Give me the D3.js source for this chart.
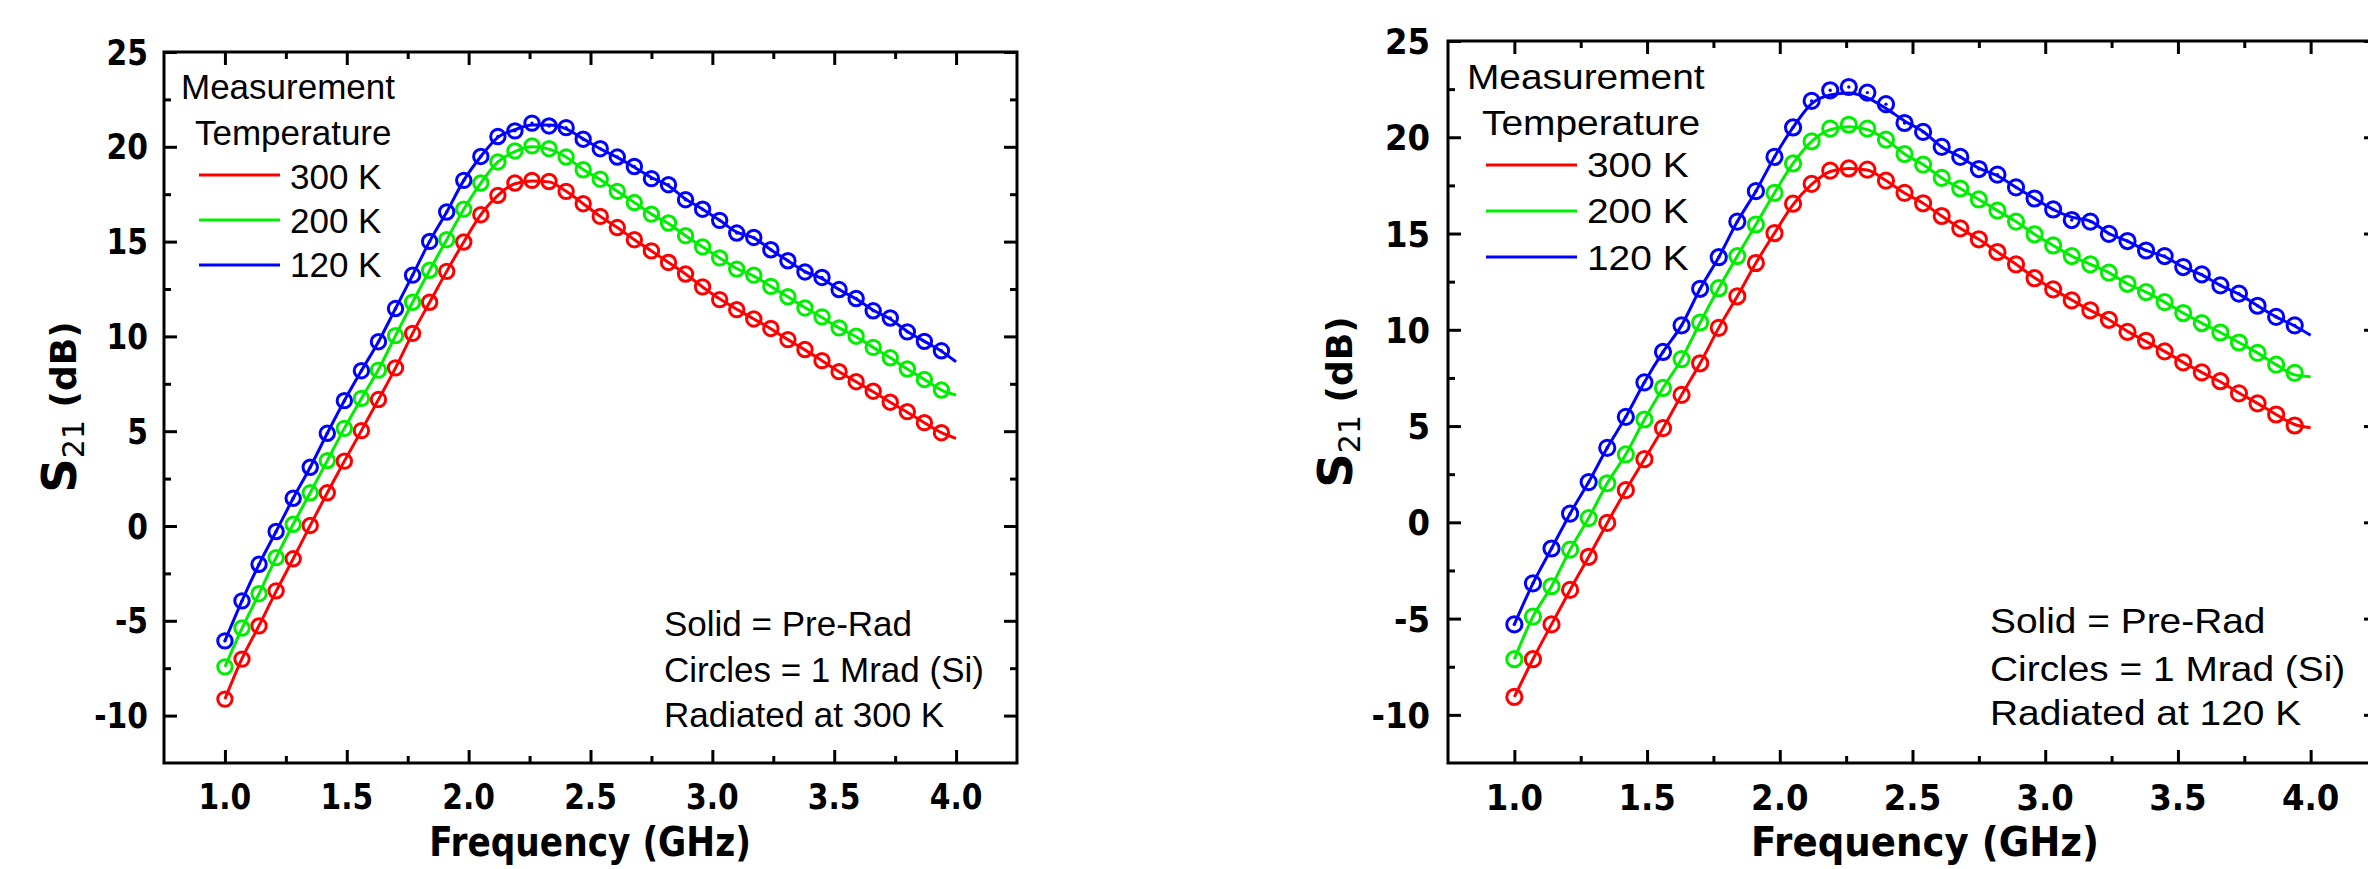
<!DOCTYPE html>
<html>
<head>
<meta charset="utf-8">
<script src="https://cdn.jsdelivr.net/npm/d3@7"></script>
<style>
  html, body { margin: 0; padding: 0; background: #fff; }
  svg { display: block; }
</style>
</head>
<body>
<svg id="chart" width="2368" height="869"></svg>
<script>
// ---------------- DATA ----------------
const freqCircle = [1.00,1.07,1.14,1.21,1.28,1.35,1.42,1.49,1.56,1.63,1.70,1.77,1.84,1.91,1.98,2.05,2.12,2.19,2.26,2.33,2.40,2.47,2.54,2.61,2.68,2.75,2.82,2.89,2.96,3.03,3.10,3.17,3.24,3.31,3.38,3.45,3.52,3.59,3.66,3.73,3.80,3.87,3.94];
const freqLine = [1.00,1.07,1.14,1.21,1.28,1.35,1.42,1.49,1.56,1.63,1.70,1.77,1.84,1.91,1.98,2.05,2.12,2.19,2.26,2.33,2.40,2.47,2.54,2.61,2.68,2.75,2.82,2.89,2.96,3.03,3.10,3.17,3.24,3.31,3.38,3.45,3.52,3.59,3.66,3.73,3.80,3.87,3.94,4.00];

// Left chart: radiated at 300 K
const leftRedCircle = [-9.13,-7.02,-5.27,-3.42,-1.73,0.03,1.75,3.42,5.03,6.67,8.34,10.16,11.8,13.43,14.98,16.42,17.44,18.09,18.23,18.17,17.65,17.0,16.33,15.74,15.1,14.51,13.9,13.29,12.61,11.94,11.41,10.92,10.42,9.83,9.31,8.72,8.14,7.61,7.11,6.53,6.03,5.45,4.92];
const leftGreenCircle = [-7.43,-5.38,-3.57,-1.67,0.09,1.75,3.45,5.15,6.73,8.22,10.04,11.8,13.49,15.1,16.71,18.09,19.2,19.78,20.05,19.9,19.46,18.79,18.29,17.65,17.06,16.45,15.98,15.31,14.72,14.14,13.55,13.23,12.64,12.09,11.5,11.03,10.45,10.01,9.42,8.87,8.28,7.73,7.17];
const leftBlueCircle = [-6.06,-3.95,-2.02,-0.29,1.46,3.1,4.89,6.61,8.19,9.72,11.47,13.23,15.01,16.56,18.23,19.49,20.54,20.84,21.25,21.1,21.01,20.4,19.9,19.46,18.96,18.32,18.0,17.21,16.71,16.12,15.45,15.22,14.57,13.99,13.4,13.11,12.47,12.0,11.35,10.97,10.24,9.74,9.24];
const leftRedLine = [-9.13,-7.0,-5.25,-3.45,-1.73,0.03,1.75,3.42,5.03,6.67,8.34,10.16,11.8,13.43,14.98,16.42,17.44,18.05,18.2,18.15,17.65,17.0,16.33,15.74,15.1,14.51,13.9,13.29,12.61,11.98,11.43,10.92,10.4,9.83,9.29,8.72,8.14,7.61,7.08,6.53,6.0,5.45,4.92,4.62];
const leftGreenLine = [-7.43,-5.4,-3.57,-1.67,0.09,1.75,3.45,5.15,6.73,8.25,10.04,11.8,13.49,15.1,16.71,18.09,19.2,19.75,20.0,19.88,19.46,18.8,18.27,17.65,17.06,16.45,15.95,15.31,14.72,14.14,13.58,13.18,12.64,12.09,11.52,11.0,10.45,9.98,9.42,8.87,8.28,7.73,7.17,6.91];
const leftBlueLine = [-6.06,-3.95,-2.02,-0.29,1.46,3.1,4.89,6.61,8.19,9.72,11.47,13.23,15.01,16.56,18.23,19.49,20.5,20.9,21.15,21.15,20.95,20.42,19.9,19.44,18.92,18.38,17.95,17.25,16.71,16.12,15.5,15.2,14.57,13.99,13.42,13.05,12.47,11.98,11.38,10.92,10.26,9.74,9.22,8.66];

// Right chart: radiated at 120 K
const rightRedCircle = [-9.07,-7.11,-5.3,-3.51,-1.79,-0.03,1.67,3.28,4.89,6.62,8.26,10.1,11.74,13.47,15.02,16.55,17.58,18.27,18.38,18.32,17.75,17.11,16.57,15.91,15.27,14.7,14.04,13.4,12.68,12.1,11.53,11.01,10.52,9.89,9.43,8.88,8.31,7.79,7.33,6.7,6.18,5.6,5.03];
const rightGreenCircle = [-7.11,-4.9,-3.32,-1.42,0.22,2.03,3.53,5.34,6.98,8.48,10.38,12.16,13.83,15.47,17.11,18.64,19.79,20.45,20.65,20.45,19.88,19.13,18.58,17.89,17.34,16.77,16.19,15.62,14.96,14.38,13.83,13.4,12.97,12.39,11.96,11.44,10.87,10.35,9.86,9.34,8.8,8.19,7.76];
const rightBlueCircle = [-5.3,-3.17,-1.36,0.45,2.09,3.87,5.48,7.27,8.85,10.23,12.13,13.77,15.62,17.2,18.98,20.51,21.89,22.44,22.61,22.32,21.72,20.74,20.28,19.5,18.98,18.35,18.06,17.4,16.82,16.25,15.7,15.62,14.98,14.61,14.12,13.83,13.26,12.88,12.31,11.88,11.25,10.67,10.23];
const rightRedLine = [-9.07,-7.11,-5.3,-3.51,-1.79,-0.03,1.67,3.28,4.89,6.62,8.26,10.1,11.74,13.47,15.02,16.5,17.55,18.22,18.38,18.3,17.75,17.11,16.57,15.91,15.27,14.7,14.04,13.4,12.7,12.1,11.55,11.01,10.52,9.92,9.4,8.88,8.31,7.79,7.3,6.72,6.18,5.6,5.08,4.91];
const rightGreenLine = [-7.11,-4.9,-3.32,-1.42,0.22,2.03,3.53,5.34,6.98,8.48,10.38,12.16,13.83,15.47,17.11,18.64,19.79,20.4,20.55,20.4,19.88,19.13,18.58,17.89,17.34,16.77,16.19,15.62,14.96,14.38,13.83,13.4,12.97,12.39,11.96,11.44,10.87,10.35,9.86,9.34,8.8,8.19,7.66,7.56];
const rightBlueLine = [-5.3,-3.17,-1.36,0.45,2.09,3.87,5.48,7.27,8.85,10.23,12.13,13.77,15.62,17.2,18.98,20.51,21.75,22.2,22.3,22.05,21.5,20.85,20.3,19.5,18.98,18.4,18.0,17.4,16.82,16.25,15.85,15.65,15.0,14.6,14.12,13.8,13.26,12.85,12.31,11.85,11.25,10.67,10.2,9.72];

const seriesNames = ["300 K", "200 K", "120 K"];
const seriesColors = ["#ff0000", "#00ee00", "#0000ff"];
const xMajorTicks = [1.0, 1.5, 2.0, 2.5, 3.0, 3.5, 4.0];
const xTickLabels = ["1.0", "1.5", "2.0", "2.5", "3.0", "3.5", "4.0"];
const xMinorTicks = [1.25, 1.75, 2.25, 2.75, 3.25, 3.75];
const yMajorTicks = [-10, -5, 0, 5, 10, 15, 20, 25];
const yTickLabels = ["-10", "-5", "0", "5", "10", "15", "20", "25"];
const yMinorTicks = [-7.5, -2.5, 2.5, 7.5, 12.5, 17.5, 22.5];
const xDomain = [0.75, 4.25];
const yDomain = [-12.5, 25];
const legendTitle = ["Measurement", "Temperature"];
const notesLeft = ["Solid = Pre-Rad", "Circles = 1 Mrad (Si)", "Radiated at 300 K"];
const notesRight = ["Solid = Pre-Rad", "Circles = 1 Mrad (Si)", "Radiated at 120 K"];
const xTitle = "Frequency (GHz)";

// ---------------- DRAWING ----------------
const svg = d3.select("#chart");
svg.append("rect").attr("width", 2368).attr("height", 869).attr("fill", "#fff");

const BOLD = "'DejaVu Sans', Verdana, sans-serif";
const REG = "'Liberation Sans', Arial, sans-serif";

function txt(g, x, y, str, o) {
  return g.append("text")
    .attr("transform", `translate(${x},${y}) scale(${o.sx || 1},1)`)
    .attr("font-family", o.family)
    .attr("font-weight", o.weight || "normal")
    .attr("font-size", o.size)
    .attr("text-anchor", o.anchor || "start")
    .attr("dy", o.dy || 0)
    .attr("fill", "#000")
    .text(str);
}

function drawPanel(cfg, circles, lines, notes) {
  const g = svg.append("g");
  const x = d3.scaleLinear().domain(xDomain).range([cfg.x0, cfg.x1]);
  const y = d3.scaleLinear().domain(yDomain).range([cfg.y1, cfg.y0]);

  // ticks (inward, all four sides)
  const axisDefs = [
    [d3.axisBottom(x), `translate(0,${cfg.y1})`, xMajorTicks, xMinorTicks],
    [d3.axisTop(x), `translate(0,${cfg.y0})`, xMajorTicks, xMinorTicks],
    [d3.axisLeft(y), `translate(${cfg.x0},0)`, yMajorTicks, yMinorTicks],
    [d3.axisRight(y), `translate(${cfg.x1},0)`, yMajorTicks, yMinorTicks]
  ];
  axisDefs.forEach(([ax, tr, maj, min]) => {
    [[maj, 13], [min, 7]].forEach(([vals, len]) => {
      const a = g.append("g").attr("transform", tr)
        .call(ax.tickValues(vals).tickSize(-len).tickFormat(""));
      a.select(".domain").remove();
      a.selectAll(".tick line").attr("stroke", "#000").attr("stroke-width", 3);
    });
  });

  // frame
  g.append("rect")
    .attr("x", cfg.x0).attr("y", cfg.y0)
    .attr("width", cfg.x1 - cfg.x0).attr("height", cfg.y1 - cfg.y0)
    .attr("fill", "none").attr("stroke", "#000").attr("stroke-width", 3);

  // tick labels
  xMajorTicks.forEach((v, i) => {
    txt(g, x(v), cfg.xLabelY, xTickLabels[i], {family: BOLD, weight: "bold", size: cfg.tickFont, sx: cfg.tickSx, anchor: "middle"});
  });
  yMajorTicks.forEach((v, i) => {
    txt(g, cfg.x0 - cfg.yLabelGap, y(v), yTickLabels[i], {family: BOLD, weight: "bold", size: cfg.tickFont, sx: cfg.tickSx, anchor: "end", dy: "0.36em"});
  });

  // axis titles
  txt(g, cfg.xTitleX, cfg.xTitleY, xTitle, {family: BOLD, weight: "bold", size: cfg.titleFont, sx: cfg.titleSx, anchor: "middle"});
  const yt = g.append("text")
    .attr("transform", `translate(${cfg.yTitleX},${cfg.yTitleY}) rotate(-90)`)
    .attr("font-family", BOLD).attr("text-anchor", "middle").attr("fill", "#000");
  yt.append("tspan").attr("font-weight", "bold").attr("font-size", 48).text("S");
  yt.append("tspan").attr("font-weight", "normal").attr("font-size", 30).attr("dy", 8).text("21");
  yt.append("tspan").attr("font-weight", "bold").attr("font-size", 36).attr("dy", -8).text("\u00a0(dB)");

  // solid lines (pre-rad)
  const line = d3.line().x((d, i) => x(freqLine[i])).y(d => y(d)).curve(d3.curveMonotoneX);
  lines.forEach((vals, s) => {
    g.append("path").datum(vals).attr("d", line)
      .attr("fill", "none").attr("stroke", seriesColors[s]).attr("stroke-width", 3)
      .attr("stroke-linejoin", "round");
  });

  // circles (1 Mrad)
  circles.forEach((vals, s) => {
    const cg = g.append("g");
    cg.selectAll("circle").data(vals).join("circle")
      .attr("cx", (d, i) => x(freqCircle[i])).attr("cy", d => y(d))
      .attr("r", cfg.r).attr("fill", "none")
      .attr("stroke", seriesColors[s]).attr("stroke-width", 3);
    if (s === 2) {
      cg.selectAll("circle.dot").data(vals).join("circle").attr("class", "dot")
        .attr("cx", (d, i) => x(freqCircle[i])).attr("cy", d => y(d))
        .attr("r", 1.7).attr("fill", seriesColors[s]);
    }
  });

  // legend
  const L = cfg.legend;
  txt(g, L.mx, L.my, legendTitle[0], {family: REG, size: cfg.textFont, sx: cfg.textSx});
  txt(g, L.tx, L.ty, legendTitle[1], {family: REG, size: cfg.textFont, sx: cfg.textSx});
  seriesNames.forEach((nm, s) => {
    g.append("line").attr("x1", L.lx0).attr("x2", L.lx1).attr("y1", L.ly[s]).attr("y2", L.ly[s])
      .attr("stroke", seriesColors[s]).attr("stroke-width", 3);
    txt(g, L.ttx, L.tty[s], nm, {family: REG, size: cfg.textFont, sx: cfg.textSx});
  });

  // notes
  notes.forEach((t, i) => {
    txt(g, cfg.noteX, cfg.noteY[i], t, {family: REG, size: cfg.textFont, sx: cfg.textSx});
  });
}

drawPanel({
  x0: 164, x1: 1017, y0: 52, y1: 763,
  tickFont: 35, tickSx: 0.85, xLabelY: 809, yLabelGap: 16,
  titleFont: 40, titleSx: 0.86, xTitleX: 590, xTitleY: 856,
  yTitleX: 76, yTitleY: 407,
  legend: {mx: 181, my: 99, tx: 195, ty: 145, lx0: 199, lx1: 280, ly: [175, 220, 265], ttx: 290, tty: [189, 233, 277]},
  noteX: 664, noteY: [636, 682, 727], textFont: 35, textSx: 1.0, r: 7.2
}, [leftRedCircle, leftGreenCircle, leftBlueCircle], [leftRedLine, leftGreenLine, leftBlueLine], notesLeft);

drawPanel({
  x0: 1448, x1: 2377, y0: 41, y1: 763,
  tickFont: 36, tickSx: 0.9, xLabelY: 810, yLabelGap: 18,
  titleFont: 40, titleSx: 0.93, xTitleX: 1925, xTitleY: 856,
  yTitleX: 1352, yTitleY: 402,
  legend: {mx: 1467, my: 89, tx: 1482, ty: 135, lx0: 1486, lx1: 1577, ly: [165, 211, 257], ttx: 1587, tty: [177, 223, 270]},
  noteX: 1990, noteY: [633, 681, 725], textFont: 36, textSx: 1.08, r: 7.6
}, [rightRedCircle, rightGreenCircle, rightBlueCircle], [rightRedLine, rightGreenLine, rightBlueLine], notesRight);
</script>
</body>
</html>
